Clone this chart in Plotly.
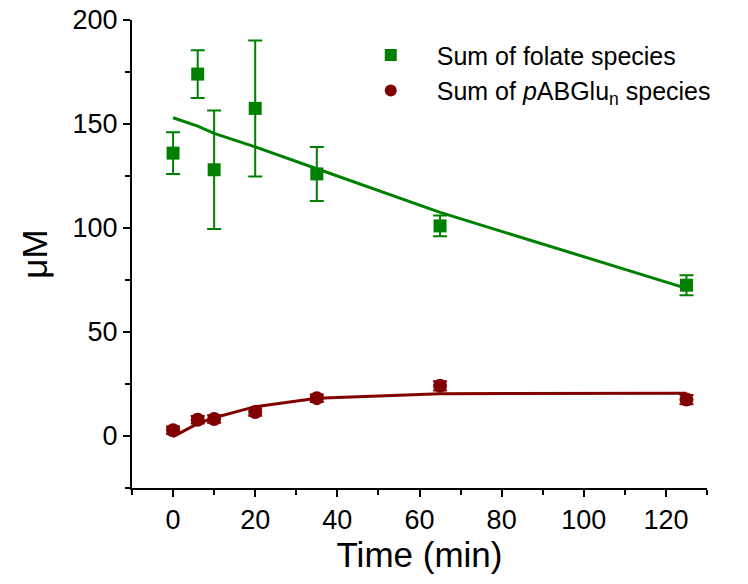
import plotly.graph_objects as go

# Data
time_min = [0, 6, 10, 20, 35, 65, 125]
folate = [136, 174, 128, 157.5, 126, 101, 72.5]
folate_err = [10, 11.5, 28.5, 32.7, 13, 5, 4.8]
pabglu = [2.8, 7.8, 8.2, 11.5, 18.2, 24.1, 17.5]
pabglu_err = [1.8, 1.8, 1.8, 1.8, 1.8, 2.2, 2.2]
folate_fit = [153, 149, 145.5, 139, 128.5, 107.5, 71]
pabglu_fit = [-0.3, 5.9, 8.8, 14.1, 18.2, 20.3, 20.6]

green = "#008000"
red = "#800000"
font = "Liberation Sans, Arial, sans-serif"

fig = go.Figure()
fig.add_trace(go.Scatter(x=time_min, y=folate_fit, mode="lines",
                         line=dict(color=green, width=3), showlegend=False,
                         hoverinfo="skip"))
fig.add_trace(go.Scatter(x=time_min, y=pabglu_fit, mode="lines",
                         line=dict(color=red, width=3), showlegend=False,
                         hoverinfo="skip"))
fig.add_trace(go.Scatter(
    x=time_min, y=folate, mode="markers", name="Sum of folate species",
    marker=dict(symbol="square", size=13, color=green),
    error_y=dict(type="data", array=folate_err, color=green, thickness=2, width=7)))
fig.add_trace(go.Scatter(
    x=time_min, y=pabglu, mode="markers",
    name="Sum of <i>p</i>ABGlu<sub>n</sub> species",
    marker=dict(symbol="circle", size=14, color=red),
    error_y=dict(type="data", array=pabglu_err, color=red, thickness=2, width=7)))

fig.update_layout(
    width=748, height=584,
    margin=dict(l=124, r=49, t=12, b=104),
    paper_bgcolor="white", plot_bgcolor="white",
    font=dict(family=font, color="black", size=25),
    legend=dict(x=0.370, y=0.974, xanchor="left", yanchor="top",
                bgcolor="rgba(0,0,0,0)", font=dict(size=25),
                itemwidth=82, tracegroupgap=0, itemsizing="constant"),
    xaxis=dict(range=[-10, 130], tickvals=[0, 20, 40, 60, 80, 100, 120],
               showgrid=False, zeroline=False, showline=True, linecolor="black",
               linewidth=2, ticks="outside", ticklen=7, tickwidth=2,
               tickcolor="black", tickfont=dict(size=27),
               ticklabeloverflow="allow", automargin=False,
               minor=dict(tickvals=[-10, 10, 30, 50, 70, 90, 110, 130],
                         ticks="outside", ticklen=5, tickwidth=2,
                         tickcolor="black"),
               title=dict(text="Time (min)", font=dict(size=35), standoff=8)),
    yaxis=dict(range=[-25, 200], tickvals=[0, 50, 100, 150, 200],
               showgrid=False, zeroline=False, showline=True, linecolor="black",
               linewidth=2, ticks="outside", ticklen=7, tickwidth=2,
               tickcolor="black", tickfont=dict(size=27),
               ticklabeloverflow="allow", automargin=False,
               minor=dict(tickvals=[-25, 25, 75, 125, 175],
                         ticks="outside", ticklen=5, tickwidth=2,
                         tickcolor="black"),
               title=dict(text="μM", font=dict(size=35), standoff=14)),
)

fig.write_html("out.html")
